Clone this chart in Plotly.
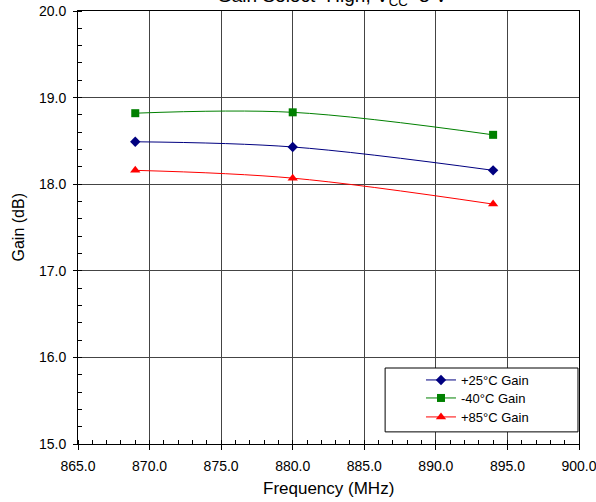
import plotly.graph_objects as go

freq = [869, 880, 894]
gain_25 = [18.49, 18.43, 18.16]
gain_m40 = [18.82, 18.83, 18.57]
gain_85 = [18.16, 18.07, 17.77]

series = [
    ("+25°C Gain", gain_25, "#000080", "diamond", 8),
    ("-40°C Gain", gain_m40, "#008000", "square", 8),
    ("+85°C Gain", gain_85, "#FF0000", "triangle-up", 9),
]
legend_rows = [0.1478, 0.1062, 0.0624]
legend_ids = ["legend", "legend2", "legend3"]

font = "Liberation Sans, Arial, sans-serif"

fig = go.Figure()
for (name, vals, color, sym, size), lid in zip(series, legend_ids):
    fig.add_trace(go.Scatter(
        x=freq, y=vals, name=name, mode="lines+markers", legend=lid,
        line=dict(color=color, width=1, shape="spline", smoothing=1),
        marker=dict(symbol=sym, size=size, color=color),
    ))

legend_layout = {}
for lid, ly in zip(legend_ids, legend_rows):
    legend_layout[lid] = dict(x=0.6846, y=ly, xanchor="left", yanchor="middle",
                              bgcolor="rgba(0,0,0,0)", borderwidth=0,
                              font=dict(family=font, size=13, color="black"),
                              itemwidth=30)

axis_common = dict(
    showline=True, linecolor="black", linewidth=1, mirror=True,
    showgrid=True, gridcolor="#444444", gridwidth=1,
    zeroline=False, ticks="outside", tickcolor="black",
    tickfont=dict(family=font, size=14, color="black"),
    tickformat=".1f", automargin=False, ticklabeloverflow="allow",
)
fig.update_layout(
    width=596, height=502,
    margin=dict(l=78, r=17, t=11, b=58),
    paper_bgcolor="white", plot_bgcolor="white",
    showlegend=True,
    **legend_layout,
    xaxis=dict(range=[865, 900], dtick=5, tick0=865, ticklen=5, ticklabelstandoff=4,
               minor=dict(dtick=1, ticks="inside", ticklen=4, tickcolor="black", showgrid=False),
               **axis_common),
    yaxis=dict(range=[15, 20], dtick=1, tick0=15, ticklen=4, ticklabelstandoff=4,
               minor=dict(dtick=0.2, ticks="inside", ticklen=4, tickcolor="black", showgrid=False),
               **axis_common),
    shapes=[dict(type="rect", xref="paper", yref="paper",
                 x0=0.613, x1=0.998, y0=0.028, y1=0.1755,
                 line=dict(color="black", width=1), fillcolor="white", layer="above")],
    annotations=[
        dict(text="Gain Select=High, V<sub>CC</sub>=3 V", xref="paper", yref="paper",
             x=0.508, y=1, xanchor="center", yanchor="bottom", yshift=0, showarrow=False,
             font=dict(family=font, size=19, color="black")),
        dict(text="Frequency (MHz)", xref="paper", yref="paper",
             x=0.5, y=0, xanchor="center", yanchor="middle", yshift=-44, showarrow=False,
             font=dict(family=font, size=17, color="black")),
        dict(text="Gain (dB)", xref="paper", yref="paper", textangle=-90,
             x=0, y=0.5, xanchor="center", yanchor="middle", xshift=-60, showarrow=False,
             font=dict(family=font, size=16, color="black")),
    ],
)
fig.write_html("out.html")
